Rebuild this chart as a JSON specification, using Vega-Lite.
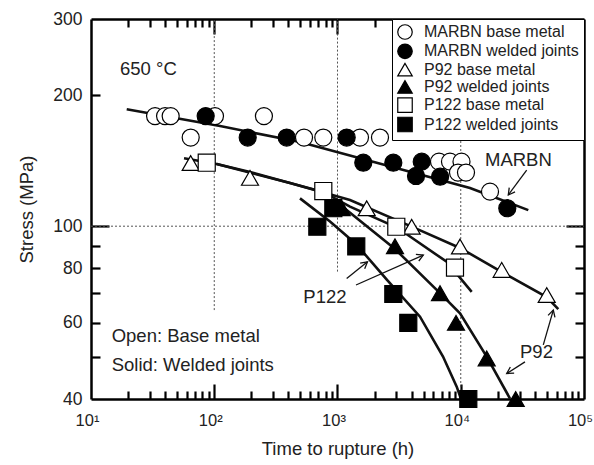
{
  "$schema": "https://vega.github.io/schema/vega-lite/v6.json",
  "autosize": "none",
  "width": 493,
  "height": 380,
  "padding": {"left": 91, "top": 19, "right": 10, "bottom": 66},
  "background": "white",
  "config": {
    "view": {"stroke": null},
    "axis": {
      "grid": false,
      "domainColor": "black",
      "domainWidth": 2.5,
      "tickColor": "black",
      "tickWidth": 2.2,
      "labelFont": "Liberation Sans",
      "labelFontSize": 17.5,
      "labelColor": "#222",
      "titleFont": "Liberation Sans",
      "titleFontSize": 18.5,
      "titleFontWeight": "normal",
      "titleColor": "#222",
      "labelFlush": false,
      "labelOverlap": false,
      "labelBound": false
    }
  },
  "datasets": {
    "pts": [
      {"series": "MARBN base metal", "t": 33.1, "s": 179.3},
      {"series": "MARBN base metal", "t": 39.9, "s": 179.3},
      {"series": "MARBN base metal", "t": 44.3, "s": 179.3},
      {"series": "MARBN base metal", "t": 64.4, "s": 160},
      {"series": "MARBN base metal", "t": 101.4, "s": 179.3},
      {"series": "MARBN base metal", "t": 253, "s": 179.3},
      {"series": "MARBN base metal", "t": 535, "s": 160},
      {"series": "MARBN base metal", "t": 767, "s": 160},
      {"series": "MARBN base metal", "t": 1522, "s": 160},
      {"series": "MARBN base metal", "t": 2212, "s": 160},
      {"series": "MARBN base metal", "t": 6662, "s": 140.8},
      {"series": "MARBN base metal", "t": 8180, "s": 140.8},
      {"series": "MARBN base metal", "t": 10140, "s": 140.8},
      {"series": "MARBN base metal", "t": 9500, "s": 132.9},
      {"series": "MARBN base metal", "t": 11030, "s": 132.9},
      {"series": "MARBN base metal", "t": 17275, "s": 120.1},
      {"series": "P92 base metal", "t": 64.4, "s": 139.8},
      {"series": "P92 base metal", "t": 195, "s": 129.2},
      {"series": "P92 base metal", "t": 1726, "s": 110},
      {"series": "P92 base metal", "t": 3999, "s": 99.7},
      {"series": "P92 base metal", "t": 9861, "s": 89.8},
      {"series": "P92 base metal", "t": 21490, "s": 79.3},
      {"series": "P92 base metal", "t": 49830, "s": 69.4},
      {"series": "P122 base metal", "t": 86.9, "s": 140},
      {"series": "P122 base metal", "t": 767, "s": 120.5},
      {"series": "P122 base metal", "t": 3000, "s": 99.7},
      {"series": "P122 base metal", "t": 8980, "s": 80.3},
      {"series": "MARBN welded joints", "t": 85.2, "s": 179.3},
      {"series": "MARBN welded joints", "t": 186.8, "s": 160},
      {"series": "MARBN welded joints", "t": 387, "s": 160},
      {"series": "MARBN welded joints", "t": 1187, "s": 160},
      {"series": "MARBN welded joints", "t": 1619, "s": 140},
      {"series": "MARBN welded joints", "t": 2837, "s": 140},
      {"series": "MARBN welded joints", "t": 4823, "s": 140.8},
      {"series": "MARBN welded joints", "t": 4335, "s": 130.5},
      {"series": "MARBN welded joints", "t": 6800, "s": 130},
      {"series": "MARBN welded joints", "t": 23860, "s": 110},
      {"series": "P92 welded joints", "t": 1082, "s": 110},
      {"series": "P92 welded joints", "t": 2928, "s": 89.9},
      {"series": "P92 welded joints", "t": 6786, "s": 70.1},
      {"series": "P92 welded joints", "t": 9152, "s": 59.9},
      {"series": "P92 welded joints", "t": 16235, "s": 49.6},
      {"series": "P92 welded joints", "t": 27920, "s": 40},
      {"series": "P122 welded joints", "t": 686, "s": 99.7},
      {"series": "P122 welded joints", "t": 925, "s": 110},
      {"series": "P122 welded joints", "t": 1420, "s": 89.8},
      {"series": "P122 welded joints", "t": 2837, "s": 69.8},
      {"series": "P122 welded joints", "t": 3753, "s": 59.9},
      {"series": "P122 welded joints", "t": 11517, "s": 40}
    ],
    "curves": [
      {"curve": "MARBN", "t": 19.49, "s": 185.9},
      {"curve": "MARBN", "t": 111.4, "s": 170.1},
      {"curve": "MARBN", "t": 496.3, "s": 156.2},
      {"curve": "MARBN", "t": 11885, "s": 122.5},
      {"curve": "MARBN", "t": 35330, "s": 108.9},
      {"curve": "P92 base", "t": 56.85, "s": 143.3},
      {"curve": "P92 base", "t": 104.7, "s": 139.0},
      {"curve": "P92 base", "t": 195.1, "s": 133.3},
      {"curve": "P92 base", "t": 411.8, "s": 125.7},
      {"curve": "P92 base", "t": 1263, "s": 114.9},
      {"curve": "P92 base", "t": 3999, "s": 99.8},
      {"curve": "P92 base", "t": 9861, "s": 89.1},
      {"curve": "P92 base", "t": 21610, "s": 78.4},
      {"curve": "P92 base", "t": 49830, "s": 68.7},
      {"curve": "P92 base", "t": 61860, "s": 64.4},
      {"curve": "P122 base", "t": 104.7, "s": 139.0},
      {"curve": "P122 base", "t": 411.8, "s": 125.7},
      {"curve": "P122 base", "t": 762.7, "s": 119.9},
      {"curve": "P122 base", "t": 1263, "s": 110.9},
      {"curve": "P122 base", "t": 3039, "s": 99.3},
      {"curve": "P122 base", "t": 7691, "s": 82.8},
      {"curve": "P122 base", "t": 12270, "s": 70.6},
      {"curve": "P122 welded", "t": 496.3, "s": 115.9},
      {"curve": "P122 welded", "t": 869.3, "s": 102.5},
      {"curve": "P122 welded", "t": 1413, "s": 91.0},
      {"curve": "P122 welded", "t": 2521, "s": 75.2},
      {"curve": "P122 welded", "t": 4670, "s": 61.9},
      {"curve": "P122 welded", "t": 7178, "s": 50.1},
      {"curve": "P122 welded", "t": 9271, "s": 42.7},
      {"curve": "P122 welded", "t": 10046, "s": 40},
      {"curve": "P92 welded", "t": 919.4, "s": 115.5},
      {"curve": "P92 welded", "t": 2928, "s": 88.6},
      {"curve": "P92 welded", "t": 6786, "s": 70.1},
      {"curve": "P92 welded", "t": 9861, "s": 63.0},
      {"curve": "P92 welded", "t": 16235, "s": 50.1},
      {"curve": "P92 welded", "t": 25090, "s": 40.1}
    ],
    "vgrid": [
      {"t": 100, "lo": 64.1, "hi": 300},
      {"t": 1000, "lo": 78.6, "hi": 300},
      {"t": 10000, "lo": 40, "hi": 300}
    ],
    "hgrid": [
      {"s": 100, "lo": 10, "hi": 100000}
    ],
    "arrows": [
      {"t1": 34280, "s1": 134.7, "t2": 24310, "s2": 118.0, "angle": 216},
      {"t1": 1187, "s1": 75.8, "t2": 1751, "s2": 82.8, "angle": 51},
      {"t1": 1413, "s1": 73.2, "t2": 4967, "s2": 85.8, "angle": 66},
      {"t1": 46740, "s1": 53.3, "t2": 56360, "s2": 64.1, "angle": 16},
      {"t1": 33200, "s1": 48.7, "t2": 23600, "s2": 45.8, "angle": 238}
    ],
    "notes": [
      {"text": "650 °C", "t": 17.2, "s": 230},
      {"text": "Open: Base metal", "t": 14.72, "s": 55.9},
      {"text": "Solid: Welded joints", "t": 14.72, "s": 47.9},
      {"text": "MARBN", "t": 15730, "s": 142},
      {"text": "P122", "t": 527.8, "s": 68.8},
      {"text": "P92", "t": 30250, "s": 51.4}
    ]
  },
  "resolve": {"axis": {"x": "independent", "y": "independent"}},
  "layer": [
    {
      "data": {"name": "vgrid"},
      "mark": {"type": "rule", "color": "#555", "strokeWidth": 1, "strokeDash": [2, 2]},
      "encoding": {
        "x": {"field": "t", "type": "quantitative",
          "scale": {"type": "log", "domain": [10, 100000], "nice": false},
          "axis": {"orient": "bottom", "values": [10, 100, 1000, 10000, 100000], "ticks": false,
            "labelExpr": "datum.value == 10 ? '10¹' : datum.value == 100 ? '10²' : datum.value == 1000 ? '10³' : datum.value == 10000 ? '10⁴' : '10⁵'",
            "labelFontSize": 16.5, "labelPadding": 13, "labelOffset": -4, "title": "Time to rupture (h)", "titlePadding": 11}},
        "y": {"field": "lo", "type": "quantitative",
          "scale": {"type": "log", "domain": [40, 300], "nice": false},
          "axis": {"orient": "left", "values": [40, 60, 80, 100, 200, 300], "ticks": false,
            "labelPadding": 9, "title": "Stress (MPa)", "titlePadding": 16}},
        "y2": {"field": "hi"}
      }
    },
    {
      "data": {"name": "hgrid"},
      "mark": {"type": "rule", "color": "#555", "strokeWidth": 1, "strokeDash": [2, 2]},
      "encoding": {
        "y": {"field": "s", "type": "quantitative",
          "scale": {"type": "log", "domain": [40, 300], "nice": false},
          "axis": {"orient": "right", "values": [100], "tickSize": -18, "labels": false, "title": null}},
        "x": {"field": "lo", "type": "quantitative",
          "scale": {"type": "log", "domain": [10, 100000], "nice": false},
          "axis": {"orient": "top", "values": [100, 1000, 10000], "tickSize": -15, "labels": false, "title": null}},
        "x2": {"field": "hi"}
      }
    },
    {
      "data": {"name": "curves"},
      "mark": {"type": "line", "color": "#111", "strokeWidth": 2.6},
      "encoding": {
        "x": {"field": "t", "type": "quantitative",
          "scale": {"type": "log", "domain": [10, 100000], "nice": false},
          "axis": {"orient": "bottom", "values": [20, 30, 40, 50, 60, 70, 80, 90, 200, 300, 400, 500, 600, 700, 800, 900, 2000, 3000, 4000, 5000, 6000, 7000, 8000, 9000, 20000, 30000, 40000, 50000, 60000, 70000, 80000, 90000],
            "tickSize": -8, "labels": false, "domain": false, "title": null}},
        "y": {"field": "s", "type": "quantitative",
          "scale": {"type": "log", "domain": [40, 300], "nice": false},
          "axis": {"orient": "left", "values": [50, 60, 70, 80, 90, 200], "tickSize": -9, "labels": false, "domain": false, "title": null}},
        "detail": {"field": "curve", "type": "nominal"}
      }
    },
    {
      "data": {"name": "pts"},
      "mark": {"type": "point", "filled": true, "strokeWidth": 1.2, "opacity": 1, "size": 290},
      "encoding": {
        "x": {"field": "t", "type": "quantitative",
          "scale": {"type": "log", "domain": [10, 100000], "nice": false},
          "axis": {"orient": "top", "values": [20, 30, 40, 50, 60, 70, 80, 90, 200, 300, 400, 500, 600, 700, 800, 900, 2000, 3000, 4000, 5000, 6000, 7000, 8000, 9000, 20000, 30000, 40000, 50000, 60000, 70000, 80000, 90000],
            "tickSize": -8, "labels": false, "domain": false, "title": null}},
        "y": {"field": "s", "type": "quantitative",
          "scale": {"type": "log", "domain": [40, 300], "nice": false},
          "axis": {"orient": "right", "values": [50, 60, 70, 80, 90, 200], "tickSize": -9, "labels": false, "domain": false, "title": null}},
        "shape": {"field": "series", "type": "nominal",
          "scale": {"domain": ["MARBN base metal", "MARBN welded joints", "P92 base metal", "P92 welded joints", "P122 base metal", "P122 welded joints"],
            "range": ["circle", "circle", "triangle-up", "triangle-up", "square", "square"]},
          "legend": {"title": null, "orient": "top-right", "offset": 0, "strokeColor": "black", "fillColor": "white",
            "padding": 5, "labelFont": "Liberation Sans", "labelFontSize": 16, "labelColor": "#222", "labelLimit": 400, "labelOffset": 11,
            "symbolSize": 210, "symbolStrokeWidth": 1.2, "rowPadding": -0.7}},
        "fill": {"field": "series", "type": "nominal",
          "scale": {"domain": ["MARBN base metal", "MARBN welded joints", "P92 base metal", "P92 welded joints", "P122 base metal", "P122 welded joints"],
            "range": ["white", "black", "white", "black", "white", "black"]},
          "legend": {"title": null, "orient": "top-right", "offset": 0, "strokeColor": "black", "fillColor": "white",
            "padding": 5, "labelFont": "Liberation Sans", "labelFontSize": 16, "labelColor": "#222", "labelLimit": 400, "labelOffset": 11,
            "symbolSize": 210, "symbolStrokeWidth": 1.2, "rowPadding": -0.7}},
        "stroke": {"field": "series", "type": "nominal",
          "scale": {"domain": ["MARBN base metal", "MARBN welded joints", "P92 base metal", "P92 welded joints", "P122 base metal", "P122 welded joints"],
            "range": ["black", "black", "black", "black", "black", "black"]},
          "legend": {"title": null, "orient": "top-right", "offset": 0, "strokeColor": "black", "fillColor": "white",
            "padding": 5, "labelFont": "Liberation Sans", "labelFontSize": 16, "labelColor": "#222", "labelLimit": 400, "labelOffset": 11,
            "symbolSize": 210, "symbolStrokeWidth": 1.2, "rowPadding": -0.7}}
      }
    },
    {
      "data": {"name": "arrows"},
      "mark": {"type": "rule", "color": "#111", "strokeWidth": 1.3},
      "encoding": {
        "x": {"field": "t1", "type": "quantitative",
          "scale": {"type": "log", "domain": [10, 100000], "nice": false},
          "axis": {"orient": "bottom", "values": [100, 1000, 10000], "tickSize": -15, "labels": false, "domain": false, "title": null}},
        "y": {"field": "s1", "type": "quantitative",
          "scale": {"type": "log", "domain": [40, 300], "nice": false},
          "axis": {"orient": "left", "values": [100], "tickSize": -18, "labels": false, "domain": false, "title": null}},
        "x2": {"field": "t2"},
        "y2": {"field": "s2"}
      }
    },
    {
      "data": {"name": "arrows"},
      "mark": {"type": "point", "shape": "M-0.55,1L0,0L0.55,1", "filled": false, "stroke": "#111", "strokeWidth": 1.3, "size": 170, "opacity": 1},
      "encoding": {
        "x": {"field": "t2", "type": "quantitative", "scale": {"type": "log", "domain": [10, 100000], "nice": false}, "axis": null},
        "y": {"field": "s2", "type": "quantitative", "scale": {"type": "log", "domain": [40, 300], "nice": false}, "axis": null},
        "angle": {"field": "angle", "type": "quantitative", "scale": null}
      }
    },
    {
      "data": {"name": "notes"},
      "mark": {"type": "text", "align": "left", "baseline": "middle", "font": "Liberation Sans", "fontSize": 18.5, "color": "#222"},
      "encoding": {
        "x": {"field": "t", "type": "quantitative", "scale": {"type": "log", "domain": [10, 100000], "nice": false}, "axis": null},
        "y": {"field": "s", "type": "quantitative", "scale": {"type": "log", "domain": [40, 300], "nice": false}, "axis": null},
        "text": {"field": "text", "type": "nominal"}
      }
    }
  ]
}
